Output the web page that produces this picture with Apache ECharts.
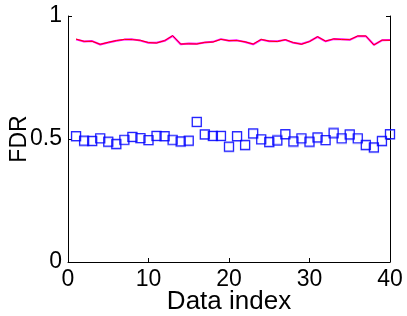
<!DOCTYPE html>
<html>
<head>
<meta charset="utf-8">
<script src="https://cdn.jsdelivr.net/npm/echarts@6/dist/echarts.min.js"></script>
<style>
  html, body { margin: 0; padding: 0; background: #fff; }
  #chart { width: 407px; height: 316px; }
</style>
</head>
<body>
<div id="chart"></div>
<script>
// data index 1..40
var dataIndex = [1,2,3,4,5,6,7,8,9,10,11,12,13,14,15,16,17,18,19,20,
                 21,22,23,24,25,26,27,28,29,30,31,32,33,34,35,36,37,38,39,40];
// upper curve (red over magenta)
var fdrRed = [0.906,0.897,0.897,0.885,0.893,0.900,0.905,0.904,0.901,0.892,
              0.890,0.900,0.920,0.886,0.887,0.886,0.893,0.894,0.905,0.900,
              0.900,0.895,0.886,0.905,0.898,0.896,0.904,0.892,0.885,0.896,
              0.916,0.898,0.907,0.904,0.904,0.919,0.919,0.882,0.902,0.901];
var fdrMagenta = [0.905,0.896,0.898,0.884,0.892,0.899,0.904,0.905,0.900,0.891,
                  0.891,0.899,0.919,0.885,0.888,0.887,0.892,0.895,0.906,0.899,
                  0.901,0.894,0.885,0.904,0.897,0.897,0.903,0.891,0.886,0.897,
                  0.915,0.897,0.906,0.905,0.903,0.918,0.918,0.883,0.901,0.902];
// lower squares (blue, light blue underneath)
var fdrBlue = [0.512,0.493,0.492,0.503,0.489,0.480,0.497,0.509,0.504,0.496,
               0.513,0.512,0.497,0.490,0.493,0.570,0.519,0.513,0.513,0.469,
               0.512,0.476,0.523,0.499,0.488,0.493,0.520,0.490,0.503,0.489,
               0.507,0.496,0.523,0.503,0.519,0.503,0.476,0.466,0.492,0.520];
var fdrLight = [0.510,0.490,0.490,0.501,0.487,0.477,0.495,0.507,0.501,0.493,
                0.511,0.510,0.494,0.488,0.491,0.568,0.517,0.511,0.511,0.466,
                0.509,0.473,0.520,0.497,0.485,0.497,0.517,0.487,0.500,0.486,
                0.504,0.493,0.527,0.500,0.516,0.500,0.473,0.463,0.489,0.517];

function pairs(ys) {
  return dataIndex.map(function (x, i) { return [x, ys[i]]; });
}

var myChart = echarts.init(document.getElementById('chart'));
var font = '"Liberation Sans", Arial, sans-serif';

var option = {
  animation: false,
  backgroundColor: '#fff',
  grid: { left: 68, right: 17, top: 16, bottom: 54, containLabel: false, outerBoundsMode: 'none' },
  xAxis: {
    type: 'value', min: 0, max: 40, interval: 10,
    name: 'Data index', nameLocation: 'middle', nameGap: 27, nameMoveOverlap: false,
    nameTextStyle: { fontFamily: font, fontSize: 26, color: '#000' },
    axisLine: { onZero: false, lineStyle: { color: '#000', width: 1 } },
    axisTick: { inside: true, length: 4, lineStyle: { color: '#000' } },
    axisLabel: { fontFamily: font, fontSize: 23, color: '#000', margin: 6 },
    splitLine: { show: false }
  },
  yAxis: [{
    type: 'value', min: 0, max: 1, interval: 0.5,
    name: 'FDR', nameLocation: 'middle', nameGap: 37, nameMoveOverlap: false,
    nameTextStyle: { fontFamily: font, fontSize: 23, color: '#000' },
    axisLine: { show: true, onZero: false, lineStyle: { color: '#000', width: 1 } },
    axisTick: { inside: true, length: 4, lineStyle: { color: '#000' } },
    axisLabel: { fontFamily: font, fontSize: 23, color: '#000', margin: 6 },
    splitLine: { show: false }
  }, {
    type: 'value', min: 0, max: 1, interval: 0.5, position: 'right',
    axisLine: { show: true, onZero: false, lineStyle: { color: '#000', width: 1 } },
    axisTick: { inside: true, length: 4, lineStyle: { color: '#000' } },
    axisLabel: { show: false },
    splitLine: { show: false }
  }],
  series: [
    {
      type: 'line', data: pairs(fdrMagenta), symbol: 'none',
      lineStyle: { color: '#ff00ff', width: 2 }
    },
    {
      type: 'line', data: pairs(fdrRed), symbol: 'none',
      lineStyle: { color: '#ff0000', width: 1 }
    },
    {
      type: 'scatter', data: pairs(fdrLight), symbol: 'rect', symbolSize: 9,
      itemStyle: { color: 'rgba(0,0,0,0)', borderColor: 'rgba(100,100,255,0.6)', borderWidth: 1.5 }
    },
    {
      type: 'scatter', data: pairs(fdrBlue), symbol: 'rect', symbolSize: 9,
      itemStyle: { color: 'rgba(0,0,0,0)', borderColor: '#0000ff', borderWidth: 1.2 }
    }
  ]
};

myChart.setOption(option);
</script>
</body>
</html>
